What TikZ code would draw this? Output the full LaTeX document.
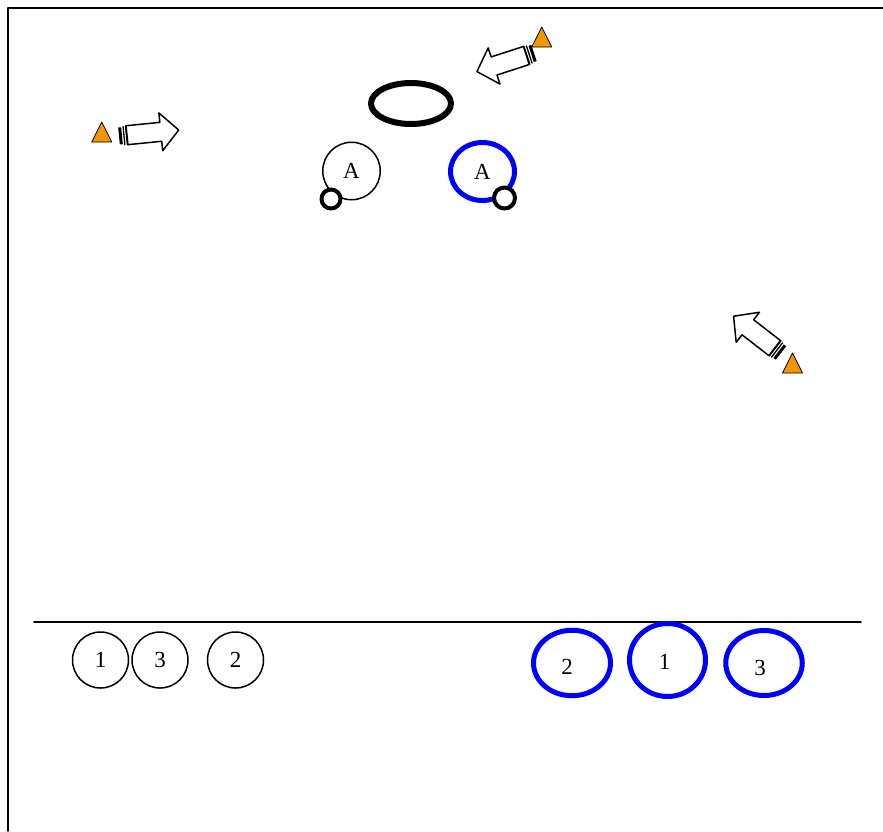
\documentclass[tikz,border=0pt]{standalone}
\usepackage{fontspec}
\setmainfont{Liberation Serif}
\usetikzlibrary{shapes.geometric}
\definecolor{coneorange}{RGB}{243,150,0}
\tikzset{
  player/.style={circle, draw, line width=1.5pt, fill=white, minimum size=56pt, inner sep=0pt},
  bluering/.style={ellipse, draw=blue, line width=5pt, fill=white, inner sep=0pt},
  hoop/.style={circle, draw, line width=4pt, fill=white, minimum size=19pt, inner sep=0pt},
}
\begin{document}
\begin{tikzpicture}[x=1pt, y=-1pt, font=\fontsize{23}{26}\selectfont, line join=round, line cap=round]
	\useasboundingbox (0,0) rectangle (883,831);
	% frame and line
	\draw[line width=1.6pt] (8,831) -- (8,8) -- (883,8);
	\draw[line width=1.6pt] (34,622) -- (861,622);
	% top
	\node[ellipse, draw, line width=6pt, minimum width=80pt, minimum height=41pt] (mat) at (411,103.5) {};
	\node[player, minimum size=57.5pt] (a1) at (351.5,171) {A};
	\node[bluering, minimum width=64pt, minimum height=58pt] (a2) at (482.5,171.5) {A};
	\node[hoop] (h1) at (331,199) {};
	\node[hoop, minimum size=21pt] (h2) at (504.5,198) {};
	% arrows
	\foreach \x/\y/\r in {119/136/5.7, 534/53/198, 781/353/142.2}{
		\begin{scope}[shift={(\x,\y)}, rotate=\r]
			\filldraw[fill=white, line width=1.5pt] (8,-9.5) -- (42,-9.5) -- (42,-19) -- (60,0) -- (42,19) -- (42,9.5) -- (8,9.5) -- cycle;
			\fill (0,-8.5) rectangle (3,8.5);
			\draw[line width=1.3pt] (5,-9) -- (5,9) (7.5,-9.5) -- (7.5,9.5);
		\end{scope}
	}
	% cones
	\foreach \x/\y in {101.7/122, 541.7/27, 792.5/353}
		\filldraw[fill=coneorange, line width=0.8pt] (\x,\y) -- ++(10,20) -- ++(-20,0) -- cycle;
	% bottom left
	\node[player] (p1) at (100.5,660) {1};
	\node[player] (p3) at (160,660) {3};
	\node[player] (p2) at (235.5,660) {2};
	% bottom right
	\node[bluering, minimum width=77pt, minimum height=65.5pt] (q2) at (572,663) {};
	\node[bluering, minimum width=76pt, minimum height=73pt] (q1) at (667.5,660) {};
	\node[bluering, minimum width=76.5pt, minimum height=65pt] (q3) at (764,663) {};
	\node (q2t) at ([shift={(-5,4)}]q2.center) {2};
	\node (q1t) at ([shift={(-3,1.5)}]q1.center) {1};
	\node (q3t) at ([shift={(-4,5)}]q3.center) {3};
\end{tikzpicture}
\end{document}
